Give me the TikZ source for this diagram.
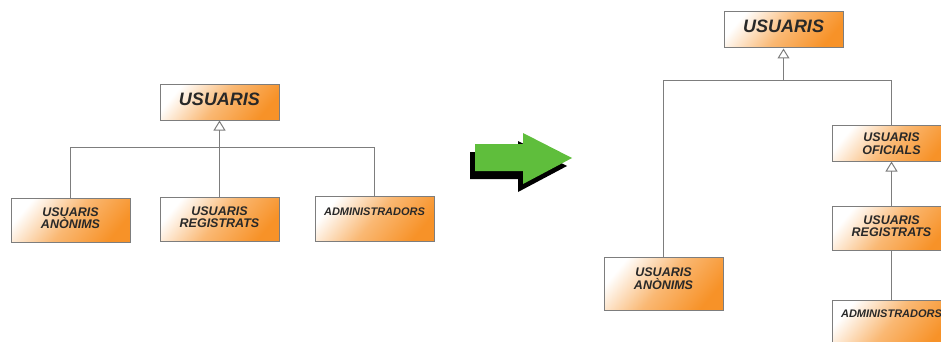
\documentclass[tikz,border=0pt]{standalone}
\usepackage{fontspec}
\setmainfont{Liberation Sans}
\usetikzlibrary{arrows.meta}
\definecolor{boxorange}{RGB}{247,146,40}
\definecolor{linegray}{RGB}{125,125,125}
\definecolor{textgray}{RGB}{40,40,40}
\definecolor{arrowgreen}{RGB}{95,190,60}
\tikzset{
  box/.style={draw=linegray, line width=1pt, left color=white, right color=boxorange,
    middle color=boxorange!65, shading angle=50, minimum width=119pt, inner xsep=0pt,
    inner ysep=0pt, align=center, text=textgray,
    font=\bfseries\itshape\fontsize{12.5}{12.5}\selectfont},
  bigbox/.style={box, font=\bfseries\itshape\fontsize{18}{20}\selectfont},
  admbox/.style={box, font=\bfseries\itshape\fontsize{11}{12}\selectfont},
  conn/.style={draw=linegray, line width=1pt},
  inh/.style={conn, -{Triangle[open, length=10pt, width=12pt, line width=1pt]}},
}
\begin{document}
\begin{tikzpicture}[x=1pt,y=-1pt]
	\useasboundingbox (0,0) rectangle (941,342);
	\clip (0,0) rectangle (941,342);
	% before
	\node[bigbox, text height=21pt, text depth=14pt] (p1) at (219.5,102.5) {USUARIS};
	\node[box, text height=30.5pt, text depth=13.5pt] (a1) at (70.5,220) {USUARIS\\ANÒNIMS};
	\node[box, text height=30.5pt, text depth=13.5pt] (r1) at (219.5,219) {USUARIS\\REGISTRATS};
	\node[admbox, text height=19pt, text depth=26pt] (ad1) at (374.5,218.5) {ADMINISTRADORS};
	\coordinate (j1) at (219.5,147.5);
	\draw[conn] (a1.north) |- (j1) -| (ad1.north);
	\draw[inh] (r1.north) -- (p1.south);
	% arrow
	\foreach \dx/\dy/\c in {-5/8/black, 0/0/arrowgreen}
	\fill[\c, shift={(\dx,\dy)}] (475,144) -- (523,144) -- (523,133) -- (572,158) -- (523,184) -- (523,171) -- (475,171) -- cycle;
	% after
	\node[bigbox, text height=21pt, text depth=15pt] (p2) at (783.5,30) {USUARIS};
	\node[box, text height=32pt, text depth=21pt] (a2) at (663.5,283.5) {USUARIS\\ANÒNIMS};
	\node[box, text height=29pt, text depth=7pt] (o2) at (891.5,143) {USUARIS\\OFICIALS};
	\node[box, text height=30.5pt, text depth=13.5pt] (r2) at (891.5,228) {USUARIS\\REGISTRATS};
	\node[admbox, text height=17pt, text depth=29pt] (ad2) at (891.5,323) {ADMINISTRADORS};
	\coordinate (j2) at (783.5,80.5);
	\draw[conn] (a2.north) |- (j2) -| (o2.north);
	\draw[inh] (j2) -- (p2.south);
	\draw[inh] (r2.north) -- (o2.south);
	\draw[conn] (ad2.north) -- (r2.south);
\end{tikzpicture}
\end{document}
